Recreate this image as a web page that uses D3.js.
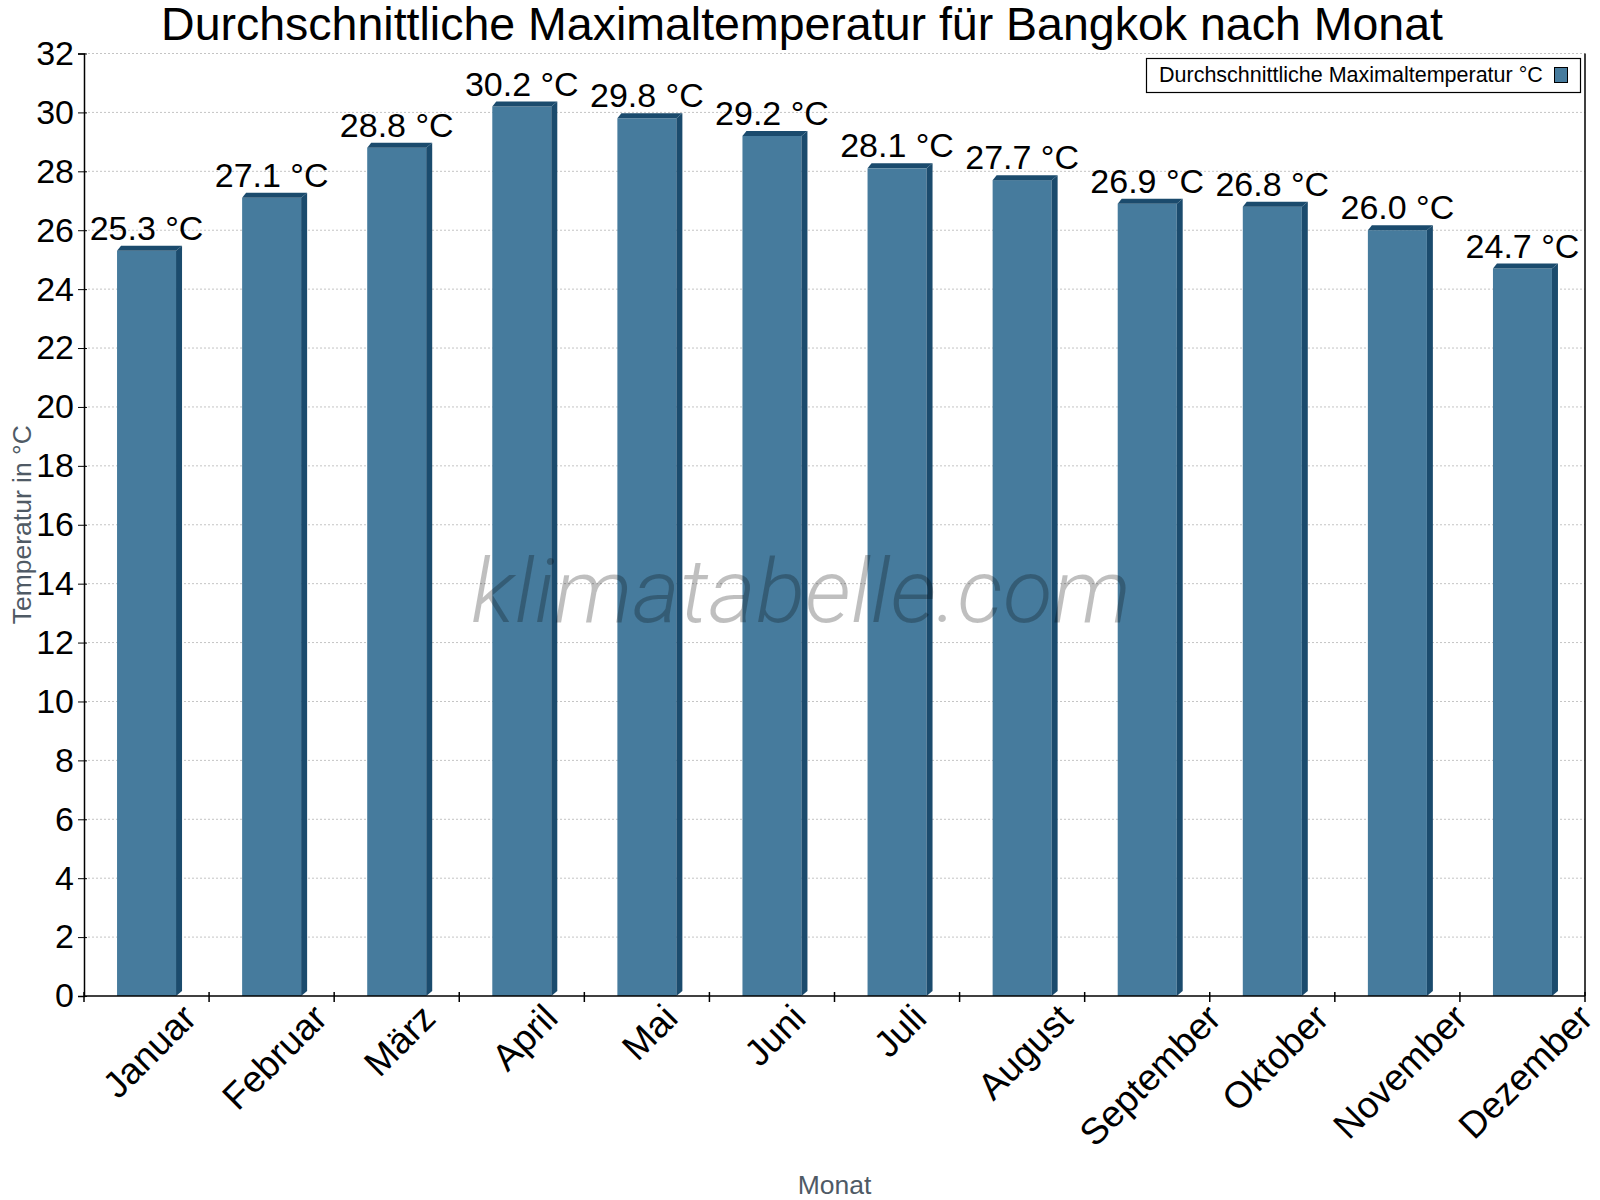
<!DOCTYPE html>
<html>
<head>
<meta charset="utf-8">
<script src="https://cdn.jsdelivr.net/npm/d3@7"></script>
<style>
  body { margin: 0; background: #fff; }
  text { font-family: "Liberation Sans", Arial, sans-serif; }
</style>
</head>
<body>
<div id="app"></div>
<script>
const months = ["Januar", "Februar", "März", "April", "Mai", "Juni", "Juli", "August", "September", "Oktober", "November", "Dezember"];
const tempMax = [25.3, 27.1, 28.8, 30.2, 29.8, 29.2, 28.1, 27.7, 26.9, 26.8, 26.0, 24.7];
const yTicks = [0, 2, 4, 6, 8, 10, 12, 14, 16, 18, 20, 22, 24, 26, 28, 30, 32];
const seriesName = "Durchschnittliche Maximaltemperatur °C";

const width = 1600;
const height = 1200;
const plotLeft = 84, plotRight = 1585, plotTop = 53.5, plotBottom = 996;

const front = "#467b9d";
const dark = "#1b4b6d";
const depthX = 6, depthY = 5;

const svg = d3.select("#app").append("svg")
  .attr("width", width)
  .attr("height", height);

const x = d3.scaleBand().domain(months).range([plotLeft, plotRight]);
const y = d3.scaleLinear().domain([0, 32]).range([plotBottom, plotTop]);

// grid
svg.append("g")
  .selectAll("line")
  .data(yTicks.filter(d => d > 0))
  .join("line")
  .attr("x1", plotLeft).attr("x2", plotRight)
  .attr("y1", d => y(d)).attr("y2", d => y(d))
  .attr("stroke", "#c4c4c4")
  .attr("stroke-dasharray", "2,2");

// bars
const barW = 59;
const bars = svg.append("g").selectAll("g")
  .data(months.map((m, i) => ({ m, v: tempMax[i] })))
  .join("g");

bars.append("rect")
  .attr("x", d => x(d.m) + x.bandwidth() / 2 - barW / 2)
  .attr("y", d => y(d.v))
  .attr("width", barW)
  .attr("height", d => y(0) - y(d.v))
  .attr("fill", front);

// top face
bars.append("path")
  .attr("fill", dark)
  .attr("d", d => {
    const x0 = x(d.m) + x.bandwidth() / 2 - barW / 2, x1 = x0 + barW, yt = y(d.v);
    return `M${x0},${yt}L${x0 + depthX - 2},${yt - depthY}L${x1 + depthX},${yt - depthY}L${x1},${yt}Z`;
  });

// side face
bars.append("path")
  .attr("fill", dark)
  .attr("d", d => {
    const x0 = x(d.m) + x.bandwidth() / 2 - barW / 2, x1 = x0 + barW, yt = y(d.v), yb = y(0);
    return `M${x1},${yt}L${x1 + depthX},${yt - depthY}L${x1 + depthX},${yb - depthY}L${x1},${yb}Z`;
  });

// value labels
bars.append("text")
  .attr("x", d => x(d.m) + x.bandwidth() / 2)
  .attr("y", d => y(d.v) - 11)
  .attr("text-anchor", "middle")
  .style("font-size", "34px")
  .attr("fill", "#000")
  .text(d => d.v.toFixed(1) + " °C");

// watermark, drawn over the bars
svg.append("text")
  .attr("x", 471).attr("y", 622)
  .attr("textLength", 660)
  .attr("lengthAdjust", "spacingAndGlyphs")
  .style("font-family", "Roboto, sans-serif")
  .style("font-weight", 300)
  .style("font-style", "italic")
  .style("font-size", "88px")
  .attr("fill", "rgba(0,0,0,0.25)")
  .text("klimatabelle.com");

// y axis
const yAxis = svg.append("g")
  .attr("transform", `translate(${plotLeft},0)`)
  .call(d3.axisLeft(y).tickValues(yTicks).tickSize(6).tickPadding(10));
yAxis.select(".domain").attr("stroke", "#000").attr("stroke-width", 1.5);
yAxis.selectAll(".tick line").attr("x1", 3).attr("x2", -6).attr("stroke", "#000");
yAxis.selectAll(".tick text")
  .attr("x", -10)
  .style("font-size", "34px")
  .style("font-family", "Liberation Sans, Arial, sans-serif")
  .attr("fill", "#000");

// right frame line
svg.append("line")
  .attr("x1", plotRight).attr("x2", plotRight)
  .attr("y1", plotTop).attr("y2", plotBottom)
  .attr("stroke", "#000").attr("stroke-width", 1.5);

// x axis line and boundary ticks
svg.append("line")
  .attr("x1", plotLeft).attr("x2", plotRight)
  .attr("y1", plotBottom).attr("y2", plotBottom)
  .attr("stroke", "#000").attr("stroke-width", 1.5);

const bounds = months.map(m => x(m)).concat([plotRight]);
svg.append("g").selectAll("line")
  .data(bounds)
  .join("line")
  .attr("x1", d => d).attr("x2", d => d)
  .attr("y1", plotBottom - 4).attr("y2", plotBottom + 6)
  .attr("stroke", "#000").attr("stroke-width", 1.5);

// x labels, rotated, bbox centred on band and top-aligned
const labelTop = 1001;
const fs = 37;
svg.append("g").selectAll("text")
  .data(months)
  .join("text")
  .style("font-size", fs + "px")
  .attr("text-anchor", "middle")
  .attr("dominant-baseline", "central")
  .attr("fill", "#000")
  .text(d => d)
  .each(function (d) {
    const w = this.getComputedTextLength();
    const half = (w + fs * 0.8) * Math.SQRT1_2 / 2;
    const cx = x(d) + x.bandwidth() / 2 + 3;
    const cy = labelTop + half;
    d3.select(this)
      .attr("x", cx).attr("y", cy)
      .attr("transform", `rotate(-45,${cx},${cy})`);
  });

// title
svg.append("text")
  .attr("x", 802).attr("y", 40)
  .attr("text-anchor", "middle")
  .style("font-size", "46.5px")
  .attr("fill", "#000")
  .text("Durchschnittliche Maximaltemperatur für Bangkok nach Monat");

// axis titles
svg.append("text")
  .attr("transform", `translate(31,${(plotTop + plotBottom) / 2}) rotate(-90)`)
  .attr("text-anchor", "middle")
  .style("font-size", "26.5px")
  .attr("fill", "#4f5a65")
  .text("Temperatur in °C");

svg.append("text")
  .attr("x", (plotLeft + plotRight) / 2).attr("y", 1194)
  .attr("text-anchor", "middle")
  .style("font-size", "26.5px")
  .attr("fill", "#4f5a65")
  .text("Monat");

// legend
const lg = svg.append("g");
lg.append("rect")
  .attr("x", 1146.5).attr("y", 58.5)
  .attr("width", 434).attr("height", 34)
  .attr("fill", "#fff").attr("stroke", "#000").attr("stroke-width", 1.2);
lg.append("text")
  .attr("x", 1159).attr("y", 82)
  .style("font-size", "21.5px")
  .attr("fill", "#000")
  .text(seriesName);
lg.append("rect")
  .attr("x", 1554.5).attr("y", 67.5)
  .attr("width", 13).attr("height", 15)
  .attr("fill", front).attr("stroke", "#000").attr("stroke-width", 1);
</script>
</body>
</html>
